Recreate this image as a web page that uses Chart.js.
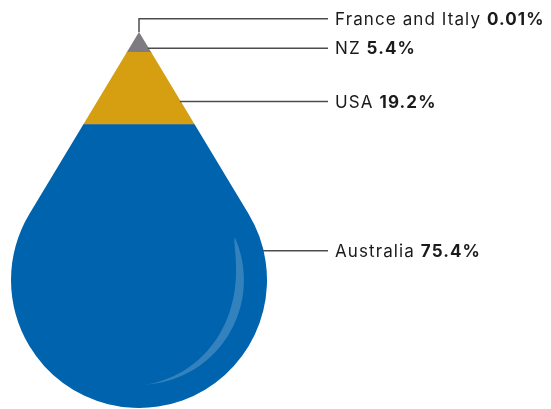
<!DOCTYPE html>
<html>
<head>
<meta charset="utf-8">
<script src="https://cdn.jsdelivr.net/npm/chart.js@4.4.1/dist/chart.umd.min.js"></script>
<style>
  body { margin: 0; background: #fff; }
  #wrap { width: 551px; height: 409px; position: relative; }
</style>
</head>
<body>
<div id="wrap"><canvas id="chart_gota"></canvas></div>
<script>
// dados (de baixo para cima na gota)
const regioes = ['Australia', 'USA', 'NZ', 'France and Italy'];
const percentuais = [75.4, 19.2, 5.4, 0.01];
const cores = ['#0063AE', '#D69F12', '#7E7C81', '#7E7C81'];
// altura (na escala y) onde cada linha guia encosta na gota
const niveisGuia = [41.8, 81.5, 95.7, 103.5];

const ctx = document.getElementById('chart_gota');

function caminhoGota(c, area) {
    const cx = (area.left + area.right) / 2;
    const r = (area.right - area.left) / 2;
    const cy = area.bottom - r;
    const d = cy - area.top;
    const t = Math.asin(r / d);
    c.beginPath();
    c.moveTo(cx, area.top);
    c.arc(cx, cy, r, -t, Math.PI + t);
    c.closePath();
    return { cx, cy, r, t };
}

const pluginGota = {
    id: 'gota',
    beforeDatasetsDraw(chart) {
        const c = chart.ctx;
        c.save();
        caminhoGota(c, chart.chartArea);
        c.clip();
    },
    afterDatasetsDraw(chart) {
        const c = chart.ctx;
        c.restore();
        const area = chart.chartArea;
        const g = caminhoGota(c, area);

        // brilho (reflexo) dentro da gota
        const R = g.r * 0.82;
        const a0 = -0.42, a1 = 1.52;
        c.save();
        c.beginPath();
        c.arc(g.cx, g.cy, R, a0, a1);
        for (let i = 60; i >= 0; i--) {
            const u = i / 60;
            const a = a0 + (a1 - a0) * u;
            const w = 9 * Math.sin(Math.PI * Math.pow(u, 0.65));
            c.lineTo(g.cx + (R - w) * Math.cos(a), g.cy + (R - w) * Math.sin(a));
        }
        c.closePath();
        c.fillStyle = 'rgba(255,255,255,0.2)';
        c.fill();
        c.restore();

        // linhas guia e rótulos
        const y = chart.scales.y;
        const xFim = 328;
        c.save();
        c.strokeStyle = '#4d4d4d';
        c.lineWidth = 1.5;
        regioes.forEach((nome, i) => {
            const py = y.getPixelForValue(niveisGuia[i]);
            c.beginPath();
            if (py < area.top) {
                c.moveTo(g.cx, area.top);
                c.lineTo(g.cx, py);
            } else {
                let px;
                const yTang = g.cy - g.r * Math.sin(g.t);
                if (py <= yTang) {
                    px = g.cx + (py - area.top) * Math.tan(g.t);
                } else {
                    const dy = py - g.cy;
                    px = g.cx + Math.sqrt(g.r * g.r - dy * dy);
                }
                c.moveTo(px - 1, py);
            }
            c.lineTo(xFim, py);
            c.stroke();

            c.textBaseline = 'middle';
            c.fillStyle = '#1a1a1a';
            c.letterSpacing = '1.1px';
            c.font = '17px Inter';
            const txt = nome + ' ';
            c.fillText(txt, 335, py + 1);
            const w = c.measureText(txt).width;
            c.font = 'bold 17px Inter';
            c.fillText(percentuais[i] + '%', 335 + w, py + 1);
        });
        c.restore();
    }
};

new Chart(ctx, {
    type: 'bar',
    data: {
        labels: [''],
        datasets: regioes.map((nome, i) => ({
            label: nome,
            data: [percentuais[i]],
            backgroundColor: cores[i],
            borderWidth: 0,
            barPercentage: 1,
            categoryPercentage: 1
        }))
    },
    options: {
        responsive: true,
        maintainAspectRatio: false,
        animation: false,
        layout: {
            padding: { left: 11, right: 284, top: 32, bottom: 1 }
        },
        scales: {
            x: { stacked: true, display: false },
            y: { stacked: true, display: false, min: 0, max: 100 }
        },
        plugins: {
            legend: { display: false },
            tooltip: { enabled: false }
        }
    },
    plugins: [pluginGota]
});
</script>
</body>
</html>
